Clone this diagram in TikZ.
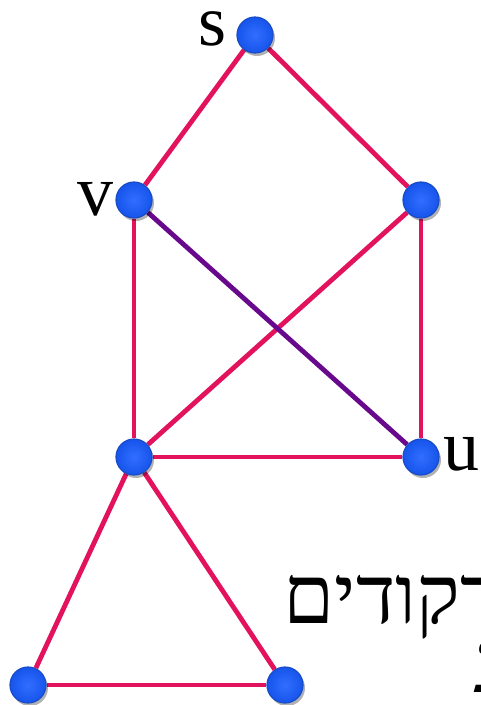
\documentclass[tikz,border=0pt]{standalone}
\usepackage{fontspec}
\setmainfont{Liberation Serif}
\newfontfamily\hebfont[Script=Hebrew]{Liberation Serif}
\TeXXeTstate=1
\usetikzlibrary{shadows,backgrounds}
\definecolor{edgepink}{RGB}{226,18,92}
\definecolor{edgepurple}{RGB}{104,8,140}
\definecolor{nodeborder}{RGB}{24,76,200}
\definecolor{nodein}{RGB}{50,110,255}
\definecolor{nodeout}{RGB}{22,84,235}
\begin{document}
\begin{tikzpicture}[x=1pt,y=-1pt,
  vtx/.style={circle, minimum size=36pt, inner sep=0pt, draw=nodeborder, line width=1.2pt,
    shading=radial, inner color=nodein, outer color=nodeout,
    drop shadow={shadow xshift=2pt, shadow yshift=-3pt, opacity=0.3, fill=black}},
  edge/.style={draw=edgepink, line width=4.8pt},
  pedge/.style={draw=edgepurple, line width=4.8pt},
  lbl/.style={font=\fontsize{72}{72}\selectfont, inner sep=0pt, anchor=base, text height=33pt, text depth=0pt},
  heb/.style={font=\fontsize{82}{82}\selectfont\hebfont, inner sep=0pt}]
\useasboundingbox (0,0) rectangle (481,705);
\clip (0,0) rectangle (481,705);
\node[vtx] (s) at (255,35) {};
\node[vtx] (v) at (134,200) {};
\node[vtx] (w) at (421,200) {};
\node[vtx] (c) at (134,457) {};
\node[vtx] (u) at (421,457) {};
\node[vtx] (a) at (28,685) {};
\node[vtx] (b) at (285,685) {};
\node[lbl] (ls) at (212.5,45) {s};
\node[lbl] (lv) at (95,215) {v};
\node[lbl] (lu) at (461,470) {u};
\node[heb, anchor=base east, text height=52pt, text depth=16pt] (t1) at (500,623) {\beginR דקודים\endR};
\node[heb, anchor=base west, text height=30pt, text depth=0pt] (t2) at (473,692) {\beginR ג\endR};
\begin{scope}[on background layer]
\draw[edge] (s) -- (v);
\draw[edge] (s) -- (w);
\draw[edge] (v) -- (c);
\draw[edge] (w) -- (u);
\draw[edge] (w) -- (c);
\draw[pedge] (v) -- (u);
\draw[edge] (c) -- (u);
\draw[edge] (c) -- (a);
\draw[edge] (c) -- (b);
\draw[edge] (a) -- (b);
\end{scope}
\end{tikzpicture}
\end{document}
